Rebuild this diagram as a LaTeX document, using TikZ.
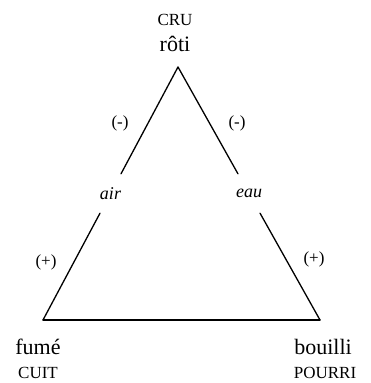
\documentclass[tikz,border=0pt]{standalone}
\usepackage{fontspec}
\setmainfont{Liberation Serif}
\begin{document}
\begin{tikzpicture}[x=1pt,y=-1pt,
  edge/.style={line width=1.3pt, line cap=round},
  word/.style={font=\fontsize{22}{24}\selectfont, inner sep=0pt},
  caps/.style={font=\fontsize{17}{19}\selectfont, inner sep=0pt},
  medium/.style={font=\fontsize{18}{20}\selectfont\itshape, inner sep=0pt, minimum height=39pt, minimum width=28pt},
  sign/.style={font=\fontsize{17}{19}\selectfont, inner sep=0pt}]
\useasboundingbox (0,0) rectangle (370,383);
\coordinate (top) at (178,67);
\coordinate (left) at (43,320);
\coordinate (right) at (320,320);
\node[medium] (air) at (110.5,193.5) {air};
\node[medium] (eau) at (249,193.5) {eau};
\draw[edge] (top) -- (air);
\draw[edge] (air) -- (left);
\draw[edge] (top) -- (eau);
\draw[edge] (eau) -- (right);
\draw[edge] (left) -- (right);
\node[caps] (cru) at (175,20) {CRU};
\node[word] (roti) at (175,44) {rôti};
\node[word] (fume) at (38,347) {fumé};
\node[caps] (cuit) at (38,373) {CUIT};
\node[word] (bouilli) at (323,347) {bouilli};
\node[caps] (pourri) at (325,373) {POURRI};
\node[sign] (m1) at (120,123) {(-)};
\node[sign] (p1) at (46,262) {(+)};
\node[sign] (m2) at (237,123) {(-)};
\node[sign] (p2) at (314,259) {(+)};
\end{tikzpicture}
\end{document}
